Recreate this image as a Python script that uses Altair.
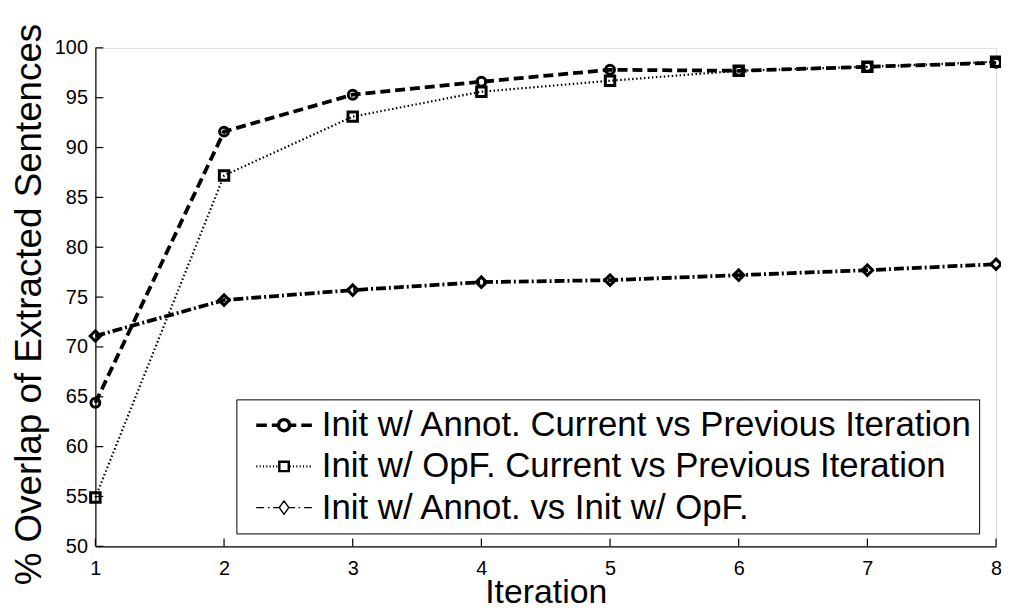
import altair as alt
import pandas as pd

# ---- data ----
iterations = [1, 2, 3, 4, 5, 6, 7, 8]
annot_cur_prev = [64.4, 91.6, 95.3, 96.6, 97.8, 97.7, 98.1, 98.5]
opf_cur_prev = [54.9, 87.2, 93.1, 95.6, 96.7, 97.7, 98.1, 98.6]
annot_vs_opf = [71.1, 74.7, 75.7, 76.5, 76.7, 77.2, 77.7, 78.3]
series_names = [
    "Init w/ Annot. Current vs Previous Iteration",
    "Init w/ OpF. Current vs Previous Iteration",
    "Init w/ Annot. vs Init w/ OpF.",
]
y_tick_values = [50, 55, 60, 65, 70, 75, 80, 85, 90, 95, 100]

rows = []
for name, vals in zip(series_names, [annot_cur_prev, opf_cur_prev, annot_vs_opf]):
    for it, v in zip(iterations, vals):
        rows.append({"iteration": it, "overlap": v, "series": name})
df = pd.DataFrame(rows)
ytick_df = pd.DataFrame({"overlap": y_tick_values})
xtick_df = pd.DataFrame({"iteration": iterations})

# ---- styling ----
FONT = "Liberation Sans, Arial, Helvetica, sans-serif"
W, H = 907, 502

x_scale = alt.Scale(domain=[1, 8], nice=False, zero=False)
y_scale = alt.Scale(domain=[50, 100], nice=False, zero=False)

x_axis = alt.Axis(values=iterations, ticks=False, labelPadding=12, labelFontSize=20,
                  labelFont=FONT, labelColor="black", labelFlush=False, grid=False,
                  domainColor="black", domainWidth=1.2,
                  title="Iteration", titleFont=FONT, titleFontSize=34,
                  titleFontWeight="normal", titleColor="black",
                  titleBaseline="alphabetic", titleY=57)
y_axis = alt.Axis(values=y_tick_values, ticks=False, labelPadding=8, labelFontSize=20,
                  labelFont=FONT, labelColor="black", labelFlush=False, grid=False,
                  domainColor="black", domainWidth=1.2,
                  title="% Overlap of Extracted Sentences", titleFont=FONT,
                  titleFontSize=37, titleFontWeight="normal", titleColor="black",
                  titleAngle=270, titleBaseline="alphabetic", titleX=-55, titleY=258)

X = alt.X("iteration:Q", scale=x_scale, axis=x_axis)
Y = alt.Y("overlap:Q", scale=y_scale, axis=y_axis)

line_styles = [
    dict(strokeDash=[10, 5], strokeWidth=3.8),
    dict(strokeDash=[1.5, 2.5], strokeWidth=2.2),
    dict(strokeDash=[10, 3, 2, 3], strokeWidth=3.8),
]
marker_styles = [
    dict(shape="circle", size=80),
    dict(shape="square", size=90),
    dict(shape="diamond", size=110),
]

layers = []
# inward tick marks
layers.append(alt.Chart(ytick_df).mark_tick(orient="horizontal", size=8, thickness=1.2,
                                            color="black", opacity=1)
              .encode(y=Y, x=alt.value(4)))
layers.append(alt.Chart(xtick_df).mark_tick(orient="vertical", size=8, thickness=1.2,
                                            color="black", opacity=1)
              .encode(x=X, y=alt.value(H - 4)))

for idx in [2, 1, 0]:
    name = series_names[idx]
    base = alt.Chart(df).transform_filter(alt.datum.series == name)
    layers.append(base.mark_line(color="black", strokeCap="butt", **line_styles[idx])
                  .encode(x=X, y=Y))
    layers.append(base.mark_point(filled=False, color="black", opacity=1, strokeWidth=3,
                                  **marker_styles[idx]).encode(x=X, y=Y))

# ---- legend symbols (line sample + marker), as custom symbol paths ----
circle = "M0.2 0A0.2 0.2 0 1 1 -0.2 0A0.2 0.2 0 1 1 0.2 0Z"
square = "M-0.17 -0.17H0.17V0.17H-0.17Z"
diamond = "M0 -0.24L0.17 0L0 0.24L-0.17 0Z"
p1 = "M-1 0H-0.62M-0.44 0H-0.2M0.2 0H0.44M0.62 0H1" + circle
dots = ""
k = -1.0
while k < -0.2:
    dots += "M%.3f 0H%.3f" % (k, k + 0.04)
    k += 0.12
k = 0.2
while k < 1.0:
    dots += "M%.3f 0H%.3f" % (k, k + 0.04)
    k += 0.12
p2 = dots + square
p3 = ("M-1 0H-0.72M-0.58 0H-0.52M-0.4 0H-0.17M0.17 0H0.4M0.52 0H0.58M0.72 0H1"
      + diamond)

legend = alt.Legend(title=None, orient="none", legendX=142, legendY=354,
                    direction="vertical", labelFont=FONT, labelFontSize=35,
                    labelColor="black", labelLimit=2000, labelOffset=8,
                    symbolSize=3136, symbolOffset=12, clipHeight=40, rowPadding=1.5,
                    padding=6, strokeColor="black", fillColor="white",
                    symbolStrokeColor="black", symbolFillColor="transparent")

legend_layer = (alt.Chart(df).transform_filter("false")
                .mark_point(filled=False, color="black", opacity=1)
                .encode(x=X, y=Y,
                        shape=alt.Shape("series:N",
                                        scale=alt.Scale(domain=series_names, range=[p1, p2, p3]),
                                        legend=legend),
                        strokeWidth=alt.StrokeWidth("series:N",
                                                    scale=alt.Scale(domain=series_names,
                                                                    range=[3.5, 1.4, 3.5]),
                                                    legend=legend)))
layers.append(legend_layer)

chart = (alt.layer(*layers)
         .properties(width=W, height=H,
                     autosize=alt.AutoSizeParams(type="none"),
                     padding={"left": 88, "top": 38, "right": 5, "bottom": 65})
         .configure_view(stroke=None)
         .configure(background="white"))

chart.save("out.html", embed_options={"renderer": "svg", "actions": False})
